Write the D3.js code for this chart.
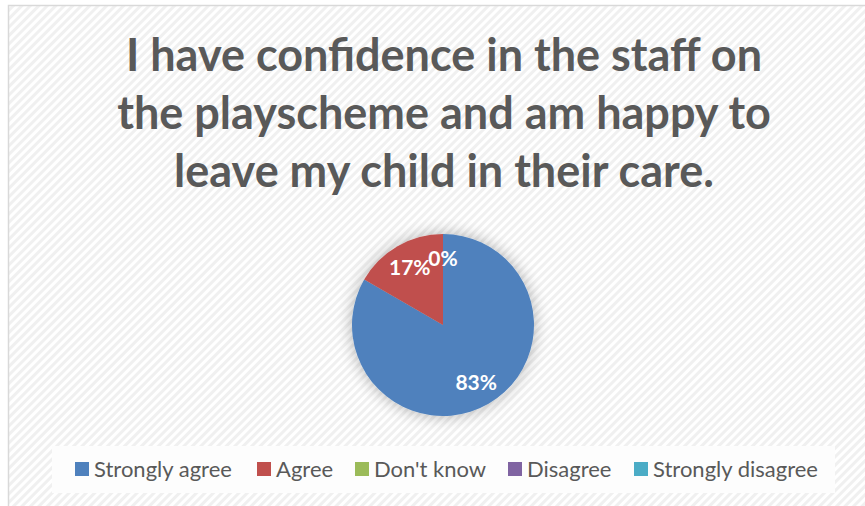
<!DOCTYPE html>
<html>
<head>
<meta charset="utf-8">
<script src="https://cdn.jsdelivr.net/npm/d3@7"></script>
<style>
  body { margin: 0; background: #fff; }
  text { font-family: Lato, "Open Sans", sans-serif; }
</style>
</head>
<body>
<div class="chart"></div>
<script>
// chart data
var categories = ["Strongly agree", "Agree", "Don't know", "Disagree", "Strongly disagree"];
var values = [5, 1, 0, 0, 0];
var colors = ["#4F81BD", "#C0504D", "#9BBB59", "#8064A2", "#4BACC6"];
var titleLines = ["I have confidence in the staff on", "the playscheme and am happy to", "leave my child in their care."];

var svgWidth = 865;
var svgHeight = 506;

var svg = d3.select(".chart")
  .append("svg")
  .attr("width", svgWidth)
  .attr("height", svgHeight);

var defs = svg.append("defs");

// diagonal stripe background
var pattern = defs.append("pattern")
  .attr("id", "stripes")
  .attr("patternUnits", "userSpaceOnUse")
  .attr("width", 6)
  .attr("height", 6)
  .attr("patternTransform", "rotate(45)");
pattern.append("rect").attr("width", 6).attr("height", 6).attr("fill", "#ffffff");
pattern.append("rect").attr("width", 3).attr("height", 6).attr("fill", "#f0f0f0");

// soft shadow for the pie
var filter = defs.append("filter")
  .attr("id", "glow")
  .attr("x", "-40%").attr("y", "-40%")
  .attr("width", "180%").attr("height", "180%");
filter.append("feGaussianBlur")
  .attr("in", "SourceAlpha")
  .attr("stdDeviation", 8)
  .attr("result", "blur");
filter.append("feComponentTransfer")
  .append("feFuncA").attr("type", "linear").attr("slope", 0.3);
var merge = filter.append("feMerge");
merge.append("feMergeNode");
merge.append("feMergeNode").attr("in", "SourceGraphic");

// chart area with border
svg.append("rect")
  .attr("x", 8.5)
  .attr("y", 5.5)
  .attr("width", 870)
  .attr("height", 520)
  .attr("fill", "url(#stripes)")
  .attr("stroke", "#d9d9d9")
  .attr("stroke-width", 1.5);

// title
svg.append("text")
  .attr("text-anchor", "middle")
  .attr("fill", "#595959")
  .style("font-size", "45px")
  .style("font-weight", "bold")
  .selectAll("tspan")
  .data(titleLines)
  .enter()
  .append("tspan")
  .attr("x", 444)
  .attr("y", (d, i) => 71 + i * 58)
  .text(d => d);

// pie
var radius = 91;
var total = d3.sum(values);
var pie = d3.pie().sort(null).value(d => d.value);
var arc = d3.arc().innerRadius(0).outerRadius(radius);
var labelArc = d3.arc().innerRadius(radius * 0.73).outerRadius(radius * 0.73);

var slices = pie(categories.map((c, i) => ({ name: c, value: values[i], color: colors[i] })));

var pieGroup = svg.append("g")
  .attr("transform", "translate(443, 325)");

pieGroup.append("g")
  .attr("filter", "url(#glow)")
  .selectAll("path")
  .data(slices)
  .enter()
  .append("path")
  .attr("d", arc)
  .attr("fill", d => d.data.color);

// percent labels (zero slices share one spot, so only one label for them)
var seenZero = false;
var labelled = slices.filter(d => {
  if (d.data.value > 0) return true;
  if (seenZero) return false;
  seenZero = true;
  return true;
});

pieGroup.selectAll(".pct")
  .data(labelled)
  .enter()
  .append("text")
  .attr("class", "pct")
  .attr("transform", d => {
    var c = labelArc.centroid(d);
    return `translate(${c[0]}, ${c[1]})`;
  })
  .attr("text-anchor", "middle")
  .attr("dy", "0.36em")
  .attr("fill", "#ffffff")
  .style("font-size", "21px")
  .style("font-weight", "bold")
  .text(d => Math.round(d.data.value / total * 100) + "%");

// legend
svg.append("rect")
  .attr("x", 52)
  .attr("y", 446)
  .attr("width", 783)
  .attr("height", 47)
  .attr("fill", "#fdfdfd");

var legendX = [75, 257, 355, 508, 634];
var legend = svg.selectAll(".legend")
  .data(categories)
  .enter()
  .append("g")
  .attr("class", "legend")
  .attr("transform", (d, i) => `translate(${legendX[i]}, 462)`);

legend.append("rect")
  .attr("width", 14)
  .attr("height", 14)
  .attr("fill", (d, i) => colors[i]);

legend.append("text")
  .attr("x", 19)
  .attr("y", 15)
  .attr("fill", "#595959")
  .style("font-size", "22px")
  .text(d => d);
</script>
</body>
</html>
